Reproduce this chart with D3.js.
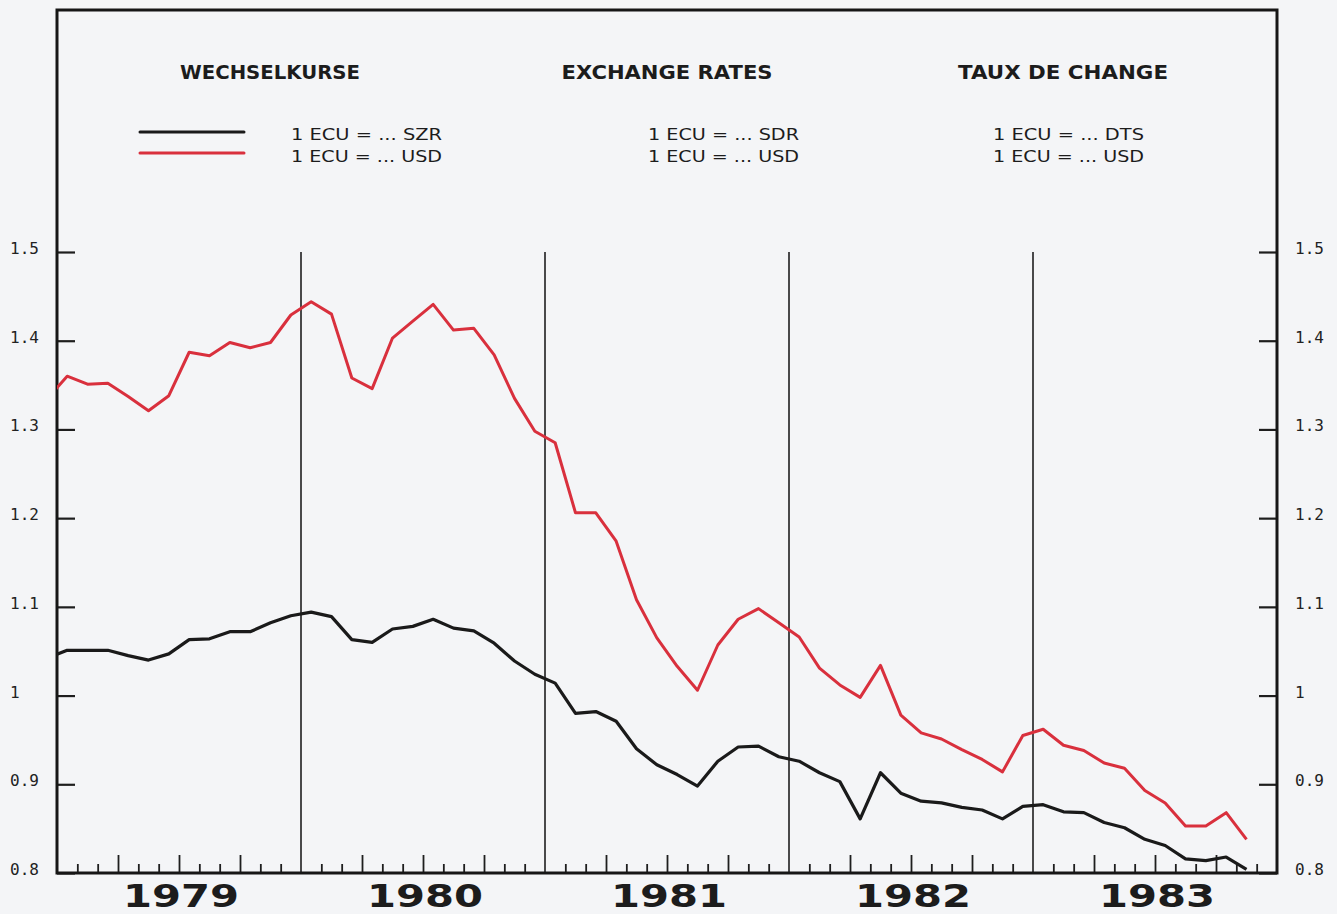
<!DOCTYPE html>
<html lang="de">
<head>
<meta charset="utf-8">
<title>Wechselkurse / Exchange rates / Taux de change</title>
<script src="https://d3js.org/d3.v7.min.js"></script>
<style>
  html, body { margin: 0; padding: 0; background: #f4f5f7; }
  svg { display: block; }
</style>
</head>
<body>
<div id="chart"></div>
<script>
// monthly values, Dec 1978 (clipped at the left edge) .. Nov 1983
var startMonth = -1;
var usd = [1.334,
  1.360, 1.351, 1.352, 1.337, 1.321, 1.338, 1.387, 1.383, 1.398, 1.392, 1.398, 1.429,
  1.444, 1.430, 1.358, 1.346, 1.403, 1.422, 1.441, 1.412, 1.414, 1.384, 1.335, 1.298,
  1.285, 1.206, 1.206, 1.174, 1.108, 1.065, 1.033, 1.006, 1.057, 1.086, 1.098, 1.082,
  1.066, 1.031, 1.012, 0.998, 1.034, 0.978, 0.958, 0.951, 0.939, 0.928, 0.914, 0.955,
  0.962, 0.944, 0.938, 0.924, 0.918, 0.893, 0.879, 0.853, 0.853, 0.868, 0.838];
var sdr = [1.042,
  1.051, 1.051, 1.051, 1.045, 1.040, 1.047, 1.063, 1.064, 1.072, 1.072, 1.082, 1.090,
  1.094, 1.089, 1.063, 1.060, 1.075, 1.078, 1.086, 1.076, 1.073, 1.059, 1.039, 1.024,
  1.014, 0.980, 0.982, 0.971, 0.940, 0.922, 0.911, 0.898, 0.926, 0.942, 0.943, 0.931,
  0.926, 0.913, 0.903, 0.861, 0.913, 0.890, 0.881, 0.879, 0.874, 0.871, 0.861, 0.875,
  0.877, 0.869, 0.868, 0.857, 0.851, 0.838, 0.831, 0.816, 0.814, 0.818, 0.804];
var years = ["1979", "1980", "1981", "1982", "1983"];
var yTicks = [0.8, 0.9, 1.0, 1.1, 1.2, 1.3, 1.4, 1.5];
var titles = ["WECHSELKURSE", "EXCHANGE RATES", "TAUX DE CHANGE"];
var legendRows = [
  ["1 ECU = ... SZR", "1 ECU = ... USD"],
  ["1 ECU = ... SDR", "1 ECU = ... USD"],
  ["1 ECU = ... DTS", "1 ECU = ... USD"]
];

var width = 1337, height = 914;
var plotLeft = 57, plotRight = 1277, plotTop = 10, plotBottom = 873;

var svg = d3.select("#chart").append("svg")
    .attr("width", width)
    .attr("height", height);

svg.append("rect").attr("width", width).attr("height", height).attr("fill", "#f4f5f7");

var x = d3.scaleLinear().domain([0, years.length * 12]).range([plotLeft, plotRight]);
var y = d3.scaleLinear().domain([0.8, 1.5]).range([plotBottom, 252]);

svg.append("clipPath").attr("id", "plot")
  .append("rect")
    .attr("x", plotLeft).attr("y", plotTop)
    .attr("width", plotRight - plotLeft).attr("height", plotBottom - plotTop);

// year separators
svg.append("g").selectAll("line")
  .data(d3.range(1, years.length))
  .enter().append("line")
    .attr("x1", function(d) { return x(d * 12); })
    .attr("x2", function(d) { return x(d * 12); })
    .attr("y1", y(1.5))
    .attr("y2", plotBottom)
    .attr("stroke", "#1e1e1e")
    .attr("stroke-width", 1.6);

// month ticks along the bottom, longer every quarter
var monthTicks = d3.range(1, years.length * 12).filter(function(m) { return m % 12 !== 0; });
var xAxis = svg.append("g")
    .attr("transform", "translate(0," + plotBottom + ")")
    .call(d3.axisBottom(x).tickValues(monthTicks).tickSize(-9).tickFormat(""));
xAxis.select(".domain").remove();
xAxis.selectAll(".tick line")
    .attr("stroke", "#1e1e1e")
    .attr("stroke-width", 1.8)
    .attr("y2", function(m) { return m % 3 === 0 ? -18 : -9; });

// y axes, ticks pointing inward
var leftAxis = svg.append("g")
    .attr("transform", "translate(" + plotLeft + ",0)")
    .call(d3.axisRight(y).tickValues(yTicks).tickSize(18).tickFormat(""));
var rightAxis = svg.append("g")
    .attr("transform", "translate(" + plotRight + ",0)")
    .call(d3.axisLeft(y).tickValues(yTicks).tickSize(18).tickFormat(""));
[leftAxis, rightAxis].forEach(function(a) {
  a.select(".domain").remove();
  a.selectAll(".tick line").attr("stroke", "#1e1e1e").attr("stroke-width", 2.2);
});

function fmt(d) { return d === 1 ? "1" : d3.format(".1f")(d); }

[10, 1295].forEach(function(lx) {
  svg.append("g").selectAll("text")
    .data(yTicks)
    .enter().append("text")
      .attr("x", lx)
      .attr("y", function(d) { return y(d) + 2; })
      .attr("font-family", "DejaVu Sans Mono")
      .attr("font-size", 16)
      .attr("fill", "#222")
      .text(fmt);
});

// frame
svg.append("path")
    .attr("d", "M" + plotLeft + "," + plotBottom + "V" + plotTop + "H" + plotRight + "V" + plotBottom + "Z")
    .attr("fill", "none")
    .attr("stroke", "#161616")
    .attr("stroke-width", 3);

// series
var line = d3.line()
    .x(function(d, i) { return x(startMonth + i + 0.5); })
    .y(function(d) { return y(d); });

var series = svg.append("g").attr("clip-path", "url(#plot)");
series.append("path")
    .datum(usd)
    .attr("d", line)
    .attr("fill", "none")
    .attr("stroke", "#d9303d")
    .attr("stroke-width", 3)
    .attr("stroke-linejoin", "round");
series.append("path")
    .datum(sdr)
    .attr("d", line)
    .attr("fill", "none")
    .attr("stroke", "#1a1a1a")
    .attr("stroke-width", 3.2)
    .attr("stroke-linejoin", "round");

// year labels
svg.append("g").selectAll("text")
  .data(years)
  .enter().append("text")
    .attr("x", function(d, i) { return x(i * 12 + 6) + 2; })
    .attr("y", 907)
    .attr("text-anchor", "middle")
    .attr("font-family", "DejaVu Sans")
    .attr("font-weight", "bold")
    .attr("font-size", 32)
    .attr("textLength", 116)
    .attr("lengthAdjust", "spacingAndGlyphs")
    .attr("fill", "#1c1c1c")
    .text(function(d) { return d; });

// titles and legend texts
var titleX = [270, 667, 1063];
var titleW = [180, 211, 210];
svg.append("g").selectAll("text")
  .data(titles)
  .enter().append("text")
    .attr("x", function(d, i) { return titleX[i]; })
    .attr("y", 79)
    .attr("text-anchor", "middle")
    .attr("font-family", "DejaVu Sans")
    .attr("font-weight", "bold")
    .attr("font-size", 20)
    .attr("textLength", function(d, i) { return titleW[i]; })
    .attr("lengthAdjust", "spacingAndGlyphs")
    .attr("fill", "#1c1c1c")
    .text(function(d) { return d; });

var legendX = [291, 648, 993];
legendRows.forEach(function(rows, i) {
  rows.forEach(function(t, j) {
    svg.append("text")
        .attr("x", legendX[i])
        .attr("y", 140 + j * 22)
        .attr("font-family", "DejaVu Sans")
        .attr("font-size", 15)
        .attr("textLength", 151)
        .attr("lengthAdjust", "spacingAndGlyphs")
        .attr("fill", "#1c1c1c")
        .text(t);
  });
});

// legend swatches
var swatch = [{color: "#1a1a1a", y: 132}, {color: "#d9303d", y: 153}];
svg.append("g").selectAll("line")
  .data(swatch)
  .enter().append("line")
    .attr("x1", 140).attr("x2", 244)
    .attr("y1", function(d) { return d.y; })
    .attr("y2", function(d) { return d.y; })
    .attr("stroke", function(d) { return d.color; })
    .attr("stroke-width", 3)
    .attr("stroke-linecap", "round");
</script>
</body>
</html>
